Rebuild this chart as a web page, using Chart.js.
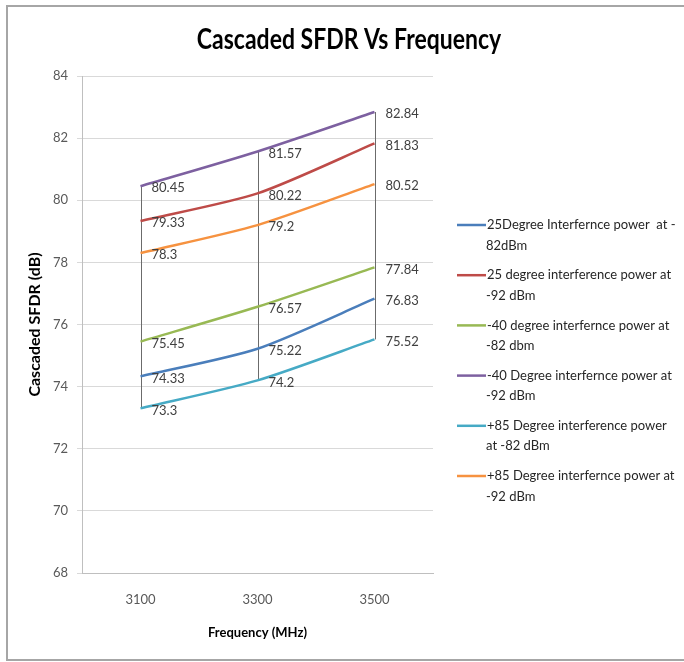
<!DOCTYPE html>
<html><head><meta charset="utf-8">
<script src="https://cdn.jsdelivr.net/npm/chart.js@4.4.0/dist/chart.umd.min.js"></script>
<style>
html,body{margin:0;padding:0;background:#fff;overflow:hidden}
#wrap{position:relative;width:684px;height:662px}
#frame{position:absolute;left:6px;top:5px;width:700px;height:656px;border:2px solid #a6a6a6;box-sizing:border-box;pointer-events:none}
canvas{display:block}
</style></head><body>
<div id="wrap"><canvas id="c" width="684" height="662"></canvas><div id="frame"></div></div>
<script>
const chartTitle = 'Cascaded SFDR Vs Frequency';
const xTitle = 'Frequency (MHz)';
const yTitle = 'Cascaded SFDR (dB)';
const categories = ['3100', '3300', '3500'];
const seriesNames = [
  ['25Degree Interfernce power  at -', '82dBm'],
  ['25 degree interference power at', '-92 dBm'],
  ['-40 degree interfernce power at', '-82 dbm'],
  ['-40 Degree interfernce power at', '-92 dBm'],
  ['+85 Degree interference power', 'at -82 dBm'],
  ['+85 Degree interfernce power at', '-92 dBm']
];
const deg25_82 = [74.33, 75.22, 76.83];
const deg25_92 = [79.33, 80.22, 81.83];
const degM40_82 = [75.45, 76.57, 77.84];
const degM40_92 = [80.45, 81.57, 82.84];
const degP85_82 = [73.3, 74.2, 75.52];
const degP85_92 = [78.3, 79.2, 80.52];
const seriesValues = [deg25_82, deg25_92, degM40_82, degM40_92, degP85_82, degP85_92];
const seriesColors = ['#4A7EBB', '#BE4B48', '#98B954', '#7D60A0', '#46AAC5', '#F69240'];
const yMin = 68, yMax = 84, yStep = 2;

Chart.defaults.font.family = 'Lato, "Open Sans", sans-serif';

const extras = {
  id: 'extras',
  beforeDatasetsDraw(chart) {
    const {ctx, scales: {x, y}} = chart;
    ctx.save();
    ctx.strokeStyle = '#6b6b6b';
    ctx.lineWidth = 1;
    categories.forEach((c, i) => {
      const vals = chart.data.datasets.map(d => d.data[i]);
      const px = Math.round(x.getPixelForValue(i)) + 0.5;
      ctx.beginPath();
      ctx.moveTo(px, y.getPixelForValue(Math.max(...vals)));
      ctx.lineTo(px, y.getPixelForValue(Math.min(...vals)));
      ctx.stroke();
    });
    ctx.restore();
  },
  afterDatasetsDraw(chart) {
    const ctx = chart.ctx;
    ctx.save();
    ctx.font = '13px Lato';
    ctx.fillStyle = '#404040';
    ctx.textAlign = 'left';
    ctx.textBaseline = 'middle';
    chart.data.datasets.forEach((ds, di) => {
      const meta = chart.getDatasetMeta(di);
      meta.data.forEach((pt, i) => {
        ctx.fillText(String(ds.data[i]), pt.x + 11, pt.y + 2);
      });
    });
    ctx.restore();
  },
  afterDraw(chart) {
    const ctx = chart.ctx;
    ctx.save();
    ctx.font = 'bold 23px Lato';
    ctx.fillStyle = '#000';
    ctx.textAlign = 'center';
    ctx.textBaseline = 'middle';
    ctx.translate(349, 40);
    ctx.scale(1, 1.2);
    ctx.fillText(chartTitle, 0, 0);
    ctx.restore();
    ctx.save();
    ctx.font = '13px Lato';
    ctx.fillStyle = '#262626';
    ctx.textAlign = 'left';
    ctx.textBaseline = 'middle';
    chart.data.datasets.forEach((ds, i) => {
      const yy = 225 + i * 50.2;
      ctx.strokeStyle = ds.borderColor;
      ctx.lineWidth = 2.5;
      ctx.beginPath();
      ctx.moveTo(457, yy);
      ctx.lineTo(486, yy);
      ctx.stroke();
      ctx.fillText(seriesNames[i][0], 487, yy);
      ctx.fillText(seriesNames[i][1], 486, yy + 20.5);
    });
    ctx.restore();
  }
};

new Chart(document.getElementById('c'), {
  type: 'line',
  data: {
    labels: categories,
    datasets: seriesValues.map((v, i) => ({
      label: seriesNames[i].join(' '),
      data: v,
      borderColor: seriesColors[i],
      backgroundColor: seriesColors[i],
      borderWidth: 2.5,
      pointRadius: 0,
      tension: 0.25,
      fill: false
    }))
  },
  options: {
    responsive: false,
    animation: false,
    layout: {padding: {top: 76, right: 251, bottom: 0, left: 0}},
    plugins: {
      legend: {display: false},
      title: {display: false},
      tooltip: {enabled: false}
    },
    scales: {
      x: {
        type: 'category',
        offset: true,
        grid: {display: false, drawTicks: false},
        border: {display: true, color: '#bfbfbf', width: 1},
        ticks: {color: '#595959', font: {size: 13}, padding: 19, maxRotation: 0},
        title: {display: true, text: xTitle, color: '#000', font: {size: 13, weight: 'bold'}, padding: {top: 0, bottom: 21}},
        afterFit(scale) { scale.height = 89; }
      },
      y: {
        min: yMin, max: yMax,
        ticks: {stepSize: yStep, color: '#595959', font: {size: 13}, padding: 9},
        grid: {color: '#d9d9d9', tickLength: 5, lineWidth: 1},
        border: {display: true, color: '#bfbfbf', width: 1},
        title: {display: true, text: yTitle, color: '#000', font: {size: 16, weight: 'bold'}, padding: {top: 25, bottom: 0}},
        afterFit(scale) { scale.width = 82; }
      }
    }
  },
  plugins: [extras]
});
</script>
</body></html>
